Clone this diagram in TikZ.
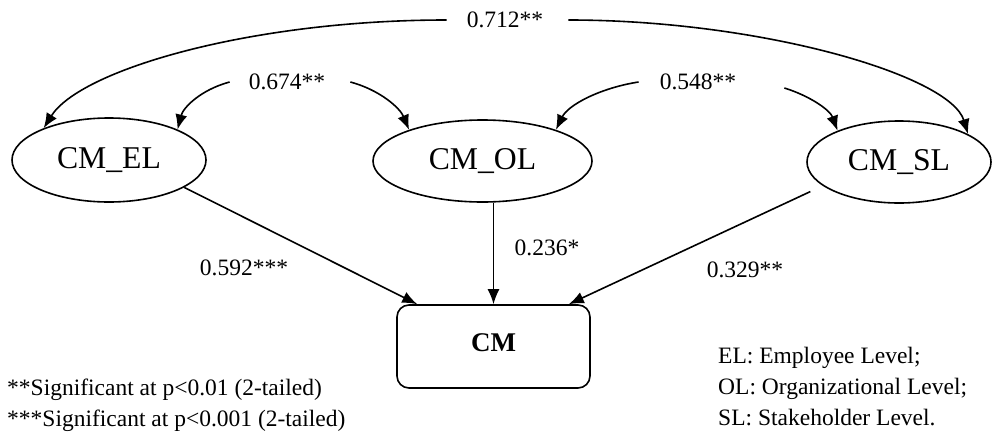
\documentclass[tikz,border=0pt]{standalone}
\usepackage{fontspec}
\setmainfont{Liberation Serif}
\usetikzlibrary{shapes.geometric,arrows.meta}
\begin{document}
\begin{tikzpicture}[x=1pt,y=-1pt,
  every node/.style={font=\fontsize{23.5}{31}\selectfont},
  latent/.style={draw,ellipse,line width=1.6pt,inner sep=0pt,
    font=\fontsize{31.7}{38}\selectfont},
  outcome/.style={draw,rectangle,rounded corners=12pt,line width=1.6pt,
    minimum width=193pt,minimum height=83pt,inner sep=0pt,
    font=\fontsize{27}{32}\selectfont\bfseries},
  coef/.style={inner sep=0pt},
  path/.style={line width=1.6pt,-{Latex[length=15pt,width=12pt]}}]
\useasboundingbox (0,0) rectangle (992,431);

% latent constructs
\node[latent,minimum width=194pt,minimum height=84pt] (el) at (109,160) {CM\_EL};
\node[latent,minimum width=219pt,minimum height=82pt] (ol) at (482.5,161) {CM\_OL};
\node[latent,minimum width=184pt,minimum height=82pt] (sl) at (899,162) {CM\_SL};

% outcome
\node[outcome] (cm) at (493.5,346.5) {\raisebox{7pt}{CM}};

% correlation labels
\node[coef] (r712) at (505,20) {0.712**};
\node[coef] (r674) at (287,82) {0.674**};
\node[coef] (r548) at (698,82) {0.548**};

% correlation arcs
\draw[path] ([xshift=-20pt]r712.west) .. controls (250,20) and (80,70) .. (el.154);
\draw[path] ([xshift=25pt]r712.east) .. controls (760,20) and (950,75) .. (sl.22);
\draw[path] ([xshift=-19pt]r674.west) .. controls (200,90) and (183,108) .. (el.24);
\draw[path] ([xshift=25pt]r674.east) .. controls (380,90) and (400,108) .. (ol.157);
\draw[path] ([xshift=-21pt]r548.west) .. controls (600,88) and (568,105) .. (ol.23);
\draw[path] ([xshift=48pt,yshift=-6pt]r548.east) .. controls (810,96) and (830,110) .. (sl.153);

% structural paths
\draw[path] (el.-20) -- ([xshift=21pt]cm.north west);
\draw[path] (cm.north |- ol.south) -- (cm.north);
\draw[path] ([xshift=-23pt]sl.south west) -- ([xshift=-22pt]cm.north east);

% path coefficients
\node[coef] (b592) at (244,268) {0.592***};
\node[coef] (b236) at (547,248) {0.236*};
\node[coef] (b329) at (745,270) {0.329**};

% notes
\node[coef,anchor=west,align=left] (sig) at (7,405)
  {**Significant at p<0.01 (2-tailed)\\***Significant at p<0.001 (2-tailed)};
\node[coef,anchor=west,align=left] (abbr) at (718,387)
  {EL: Employee Level;\\OL: Organizational Level;\\SL: Stakeholder Level.};
\end{tikzpicture}
\end{document}
